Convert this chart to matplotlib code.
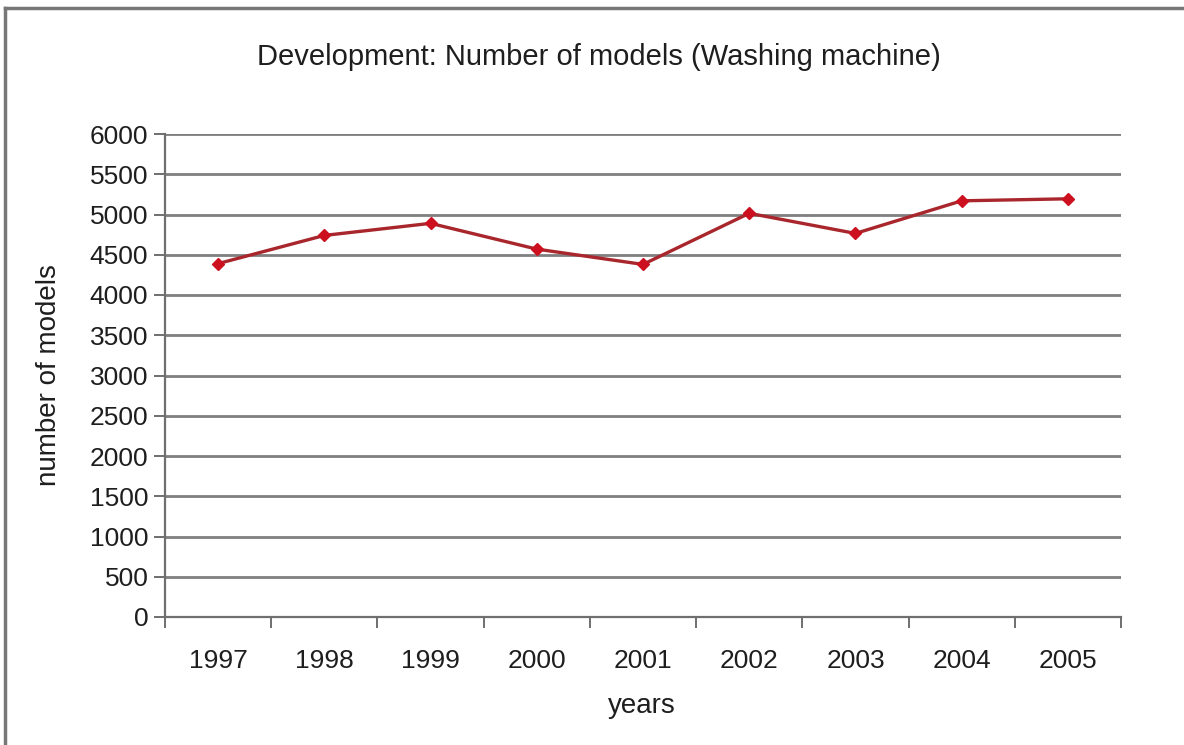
import matplotlib
matplotlib.use("Agg")
import matplotlib.pyplot as plt
from matplotlib.lines import Line2D
import numpy as np

years = ["1997", "1998", "1999", "2000", "2001", "2002", "2003", "2004", "2005"]
models = [4390, 4740, 4890, 4570, 4380, 5015, 4765, 5170, 5195]
y_ticks = list(range(0, 6001, 500))

plt.rcParams["font.family"] = ["Liberation Sans", "DejaVu Sans"]
text_color = "#1e1e1e"

fig = plt.figure(figsize=(11.84, 7.45), dpi=100)
fig.patch.set_facecolor("white")
ax = fig.add_axes([165 / 1184, 1 - 617 / 745, (1121 - 165) / 1184, (617 - 134) / 745])

x = np.arange(len(years))
ax.plot(x, models, color="#a8262c", lw=2.4, marker="D", ms=6.5,
        markerfacecolor="#cc1020", markeredgecolor="#cc1020", zorder=3)

ax.set_xlim(-0.5, len(years) - 0.5)
ax.set_ylim(0, 6000)
ax.set_yticks(y_ticks)
ax.set_yticklabels([str(v) for v in y_ticks])
ax.set_xticks(x)
ax.set_xticklabels(years)
ax.set_xticks(np.arange(-0.5, len(years)), minor=True)

ax.yaxis.grid(True, color="#7f7f7f", lw=2.0)
ax.set_axisbelow(True)
for side in ("top", "right"):
    ax.spines[side].set_visible(False)
for side in ("left", "bottom"):
    ax.spines[side].set_color("#6f6f6f")
    ax.spines[side].set_linewidth(1.6)

ax.tick_params(axis="y", length=8, width=1.4, color="#6f6f6f", labelsize=19,
               pad=4, labelcolor=text_color)
ax.tick_params(axis="x", which="major", length=0, labelsize=19, pad=23,
               labelcolor=text_color)
ax.tick_params(axis="x", which="minor", length=8, width=1.4, color="#6f6f6f")

ax.set_xlabel("years", fontsize=20, color=text_color)
ax.set_ylabel("number of models", fontsize=20, color=text_color)
ax.xaxis.set_label_coords(0.499, -0.158)
ax.yaxis.set_label_coords(-0.108, 0.5)
fig.text(599 / 1184, 1 - 57 / 745, "Development: Number of models (Washing machine)",
         ha="center", va="center", fontsize=21, color=text_color)

# outer frame edges
fig.add_artist(Line2D([5 / 1184, 1], [1 - 8 / 745, 1 - 8 / 745], transform=fig.transFigure,
                      color="#777777", lw=2.5))
fig.add_artist(Line2D([5 / 1184, 5 / 1184], [0, 1 - 8 / 745], transform=fig.transFigure,
                      color="#777777", lw=2.5))

fig.savefig("out.png", dpi=100, facecolor="white")
